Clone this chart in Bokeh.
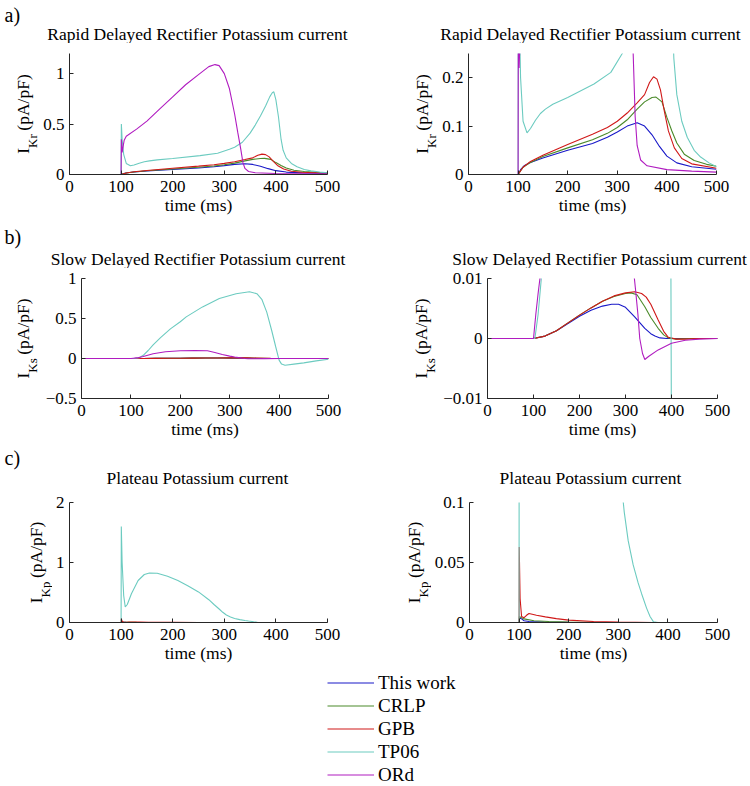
import math
from bokeh.plotting import figure
from bokeh.layouts import column, row
from bokeh.models import (Range1d, FixedTicker, CustomJSTickFormatter, Label,
                          Legend, LegendItem)
from bokeh.embed import file_html
from bokeh.resources import INLINE

FONT = "Liberation Serif"

models = ["This work", "CRLP", "GPB", "TP06", "ORd"]
colors = ["#1818c8", "#4a8a2a", "#d01818", "#6ccbc0", "#b01cc0"]
time_ticks = [0, 100, 200, 300, 400, 500]

# ---------------- IKr (rapid delayed rectifier) ----------------
ikr_t_this = [0, 100, 105, 112, 125, 150, 200, 250, 280, 300, 320, 340, 355, 370, 385, 400, 420, 450, 500]
ikr_v_this = [0, 0, 0.01, 0.018, 0.025, 0.034, 0.05, 0.064, 0.077, 0.088, 0.1, 0.107, 0.1, 0.082, 0.058, 0.038, 0.024, 0.016, 0.011]
ikr_t_crlp = [0, 100, 110, 125, 150, 200, 250, 280, 300, 320, 340, 355, 370, 378, 390, 400, 410, 420, 435, 455, 480, 500]
ikr_v_crlp = [0, 0, 0.015, 0.025, 0.037, 0.055, 0.072, 0.085, 0.097, 0.113, 0.135, 0.15, 0.159, 0.16, 0.15, 0.118, 0.09, 0.065, 0.042, 0.029, 0.021, 0.017]
ikr_t_gpb = [0, 100, 110, 125, 150, 200, 250, 280, 300, 320, 340, 355, 365, 373, 380, 387, 395, 403, 415, 430, 450, 500]
ikr_v_gpb = [0, 0, 0.015, 0.027, 0.04, 0.062, 0.083, 0.097, 0.11, 0.127, 0.148, 0.165, 0.19, 0.202, 0.197, 0.175, 0.13, 0.09, 0.055, 0.033, 0.022, 0.013]
ikr_t_tp06 = [0, 100, 100.5, 102, 105, 110, 118, 125, 135, 145, 155, 170, 200, 253, 287, 310, 320, 335, 350, 360, 370, 380, 388, 393, 396, 400, 405, 410, 414, 420, 430, 441, 455, 468, 485, 500]
ikr_v_tp06 = [0, 0, 0.5, 0.35, 0.2, 0.11, 0.086, 0.095, 0.112, 0.126, 0.135, 0.145, 0.159, 0.187, 0.211, 0.25, 0.27, 0.32, 0.41, 0.49, 0.58, 0.68, 0.77, 0.81, 0.82, 0.74, 0.57, 0.35, 0.24, 0.165, 0.11, 0.077, 0.05, 0.036, 0.024, 0.016]
ikr_t_ord = [0, 100, 100.5, 102, 106, 110, 130, 150, 175, 200, 225, 250, 270, 282, 290, 300, 310, 320, 326, 332, 336, 340, 347, 360, 400, 450, 500]
ikr_v_ord = [0, 0, 0.35, 0.22, 0.34, 0.38, 0.45, 0.53, 0.65, 0.77, 0.89, 0.99, 1.07, 1.09, 1.08, 1.0, 0.85, 0.6, 0.42, 0.25, 0.12, 0.06, 0.03, 0.018, 0.01, 0.007, 0.005]

# ---------------- IKs (slow delayed rectifier) ----------------
iks_t_this = [0, 100, 125, 150, 175, 200, 225, 250, 270, 285, 300, 320, 342, 355, 364, 375, 390, 500]
iks_v_this = [0, 0, 0.0004, 0.0013, 0.0025, 0.0037, 0.0047, 0.0054, 0.0057, 0.0057, 0.0052, 0.0036, 0.0017, 0.0008, 0.0004, 0.0001, 0, 0]
iks_t_crlp = [0, 100, 125, 150, 175, 200, 225, 250, 275, 300, 312, 325, 342, 355, 371, 383, 393, 410, 440, 500]
iks_v_crlp = [0, 0, 0.0004, 0.0013, 0.0026, 0.0039, 0.0051, 0.0062, 0.007, 0.0075, 0.0076, 0.0073, 0.0053, 0.0035, 0.0017, 0.0006, 0.0001, -0.0001, 0, 0]
iks_t_gpb = [0, 100, 125, 150, 175, 200, 225, 250, 275, 300, 320, 335, 345, 355, 371, 383, 393, 410, 430, 460, 500]
iks_v_gpb = [0, 0, 0.0004, 0.0013, 0.0026, 0.0039, 0.0051, 0.0062, 0.0071, 0.0076, 0.0078, 0.0075, 0.0069, 0.0057, 0.0031, 0.0012, 0.0002, -0.0001, -0.0001, 0, 0]
iks_t_tp06 = [0, 100, 103, 110, 117, 125, 135, 145, 160, 180, 200, 212, 245, 279, 313, 340, 355, 365, 375, 385, 393, 400, 405, 412, 430, 450, 475, 500]
iks_v_tp06 = [0, 0, 0, 0.004, 0.01, 0.04, 0.1, 0.17, 0.26, 0.37, 0.46, 0.52, 0.645, 0.75, 0.81, 0.835, 0.81, 0.74, 0.58, 0.35, 0.15, -0.02, -0.07, -0.085, -0.07, -0.055, -0.03, -0.01]
iks_t_ord = [0, 100, 105, 110, 114, 125, 145, 170, 200, 230, 255, 270, 285, 300, 310, 318, 322, 327, 331, 337, 342, 350, 371, 400, 430, 460, 500]
iks_v_ord = [0, 0, 0.004, 0.0075, 0.01, 0.025, 0.06, 0.085, 0.097, 0.1, 0.097, 0.075, 0.05, 0.03, 0.018, 0.011, 0.008, 0.004, 0, -0.0025, -0.0035, -0.003, -0.0019, -0.0008, -0.0003, -0.0001, 0]

# ---------------- IKp (plateau potassium) ----------------
ikp_t_this = [0, 100, 101, 105, 110, 120, 150, 200, 250, 500]
ikp_v_this = [0, 0, 0.004, 0.003, 0.0015, 0.0008, 0.0003, 0.0001, 0, 0]
ikp_t_crlp = [0, 100, 100.5, 105, 110, 130, 160, 200, 250, 300, 500]
ikp_v_crlp = [0, 0, 0.005, 0.004, 0.003, 0.0015, 0.0008, 0.0004, 0.0001, 0, 0]
ikp_t_gpb = [0, 100, 100.3, 102, 105, 110, 115, 120, 135, 153, 175, 200, 250, 300, 370, 500]
ikp_v_gpb = [0, 0, 0.063, 0.02, 0.005, 0.004, 0.006, 0.0075, 0.006, 0.0047, 0.0032, 0.002, 0.0008, 0.0003, 0, 0]
ikp_t_tp06 = [0, 100, 100.4, 102, 105, 108, 112, 120, 133, 145, 155, 170, 190, 210, 230, 250, 270, 280, 290, 297, 304, 312, 320, 330, 340, 347, 357, 364, 371, 380, 500]
ikp_v_tp06 = [0, 0, 1.6, 1.0, 0.45, 0.26, 0.3, 0.48, 0.7, 0.8, 0.825, 0.82, 0.77, 0.7, 0.61, 0.51, 0.38, 0.3, 0.225, 0.17, 0.125, 0.092, 0.068, 0.048, 0.033, 0.024, 0.012, 0.005, 0.0005, 0, 0]

ikr_series = [(ikr_t_this, ikr_v_this), (ikr_t_crlp, ikr_v_crlp), (ikr_t_gpb, ikr_v_gpb),
              (ikr_t_tp06, ikr_v_tp06), (ikr_t_ord, ikr_v_ord)]
iks_series = [(iks_t_this, iks_v_this), (iks_t_crlp, iks_v_crlp), (iks_t_gpb, iks_v_gpb),
              (iks_t_tp06, iks_v_tp06), (iks_t_ord, iks_v_ord)]
ikp_series = [(ikp_t_this, ikp_v_this), (ikp_t_crlp, ikp_v_crlp), (ikp_t_gpb, ikp_v_gpb),
              (ikp_t_tp06, ikp_v_tp06), None]

titles = ["Rapid Delayed Rectifier Potassium current",
          "Slow Delayed Rectifier Potassium current",
          "Plateau Potassium current"]
tags = ["a)", "b)", "c)"]

fmt = CustomJSTickFormatter(code="return tick < 0 ? '\u2212' + String(-tick) : String(tick);")

FS = "17.5px"


def blank(w, h, **kw):
    f = figure(output_backend="svg", toolbar_location=None,
               frame_width=w, frame_height=h, min_border=0,
               x_range=Range1d(0, w), y_range=Range1d(0, h),
               x_axis_type=None, y_axis_type=None, **kw)
    f.outline_line_color = None
    f.grid.visible = False
    return f


def header(h, tag, tag_y, title, title_y, xl, xr):
    f = blank(750, h)
    f.add_layout(Label(x=4, y=h - tag_y, text=tag, text_align="left", text_baseline="middle",
                       text_font=FONT, text_font_size="20px", text_color="black"))
    for xc in (xl, xr):
        f.add_layout(Label(x=xc, y=h - title_y, text=title, text_align="center",
                           text_baseline="middle", text_font=FONT, text_font_size=FS,
                           text_color="black"))
    return f


def label_fig(w, bt, fh, bb, sub, bx):
    f = figure(output_backend="svg", toolbar_location=None,
               frame_width=w, frame_height=fh,
               min_border_left=0, min_border_right=0,
               min_border_top=bt, min_border_bottom=bb,
               x_range=Range1d(0, w), y_range=Range1d(0, fh),
               x_axis_type=None, y_axis_type=None)
    f.outline_line_color = None
    f.grid.visible = False
    i_w = 0.333 * 17.5
    sub_w = {"Kr": 1.055, "Ks": 1.111, "Kp": 1.222}[sub] * 13
    gap = 3.5
    par_w = 3.222 * 17.5
    total = i_w + sub_w + gap + par_w
    y0 = fh / 2 - total / 2
    common = dict(angle=math.pi / 2, text_align="left", text_baseline="alphabetic",
                  text_font=FONT, text_color="black")
    f.add_layout(Label(x=bx, y=y0, text="I", text_font_size=FS, **common))
    f.add_layout(Label(x=bx + 10, y=y0 + i_w, text=sub, text_font_size="13px", **common))
    f.add_layout(Label(x=bx, y=y0 + i_w + sub_w + gap, text="(pA/pF)",
                       text_font_size=FS, **common))
    return f


def panel(series, yrange, yticks, fw, bl, br, bt, fh, bb):
    p = figure(output_backend="svg", toolbar_location=None,
               frame_width=fw, frame_height=fh,
               min_border_left=bl, min_border_right=br,
               min_border_top=bt, min_border_bottom=bb,
               x_range=Range1d(0, 500), y_range=Range1d(*yrange))
    p.outline_line_color = None
    p.xgrid.visible = False
    p.ygrid.visible = False
    p.xaxis.ticker = FixedTicker(ticks=time_ticks)
    p.yaxis.ticker = FixedTicker(ticks=yticks)
    p.yaxis.formatter = fmt
    for ax in (p.xaxis[0], p.yaxis[0]):
        ax.major_label_text_font = FONT
        ax.major_label_text_font_size = "17px"
        ax.major_label_text_color = "black"
        ax.major_tick_in = 4
        ax.major_tick_out = 0
        ax.minor_tick_in = 0
        ax.minor_tick_out = 0
        ax.axis_line_color = "#262626"
        ax.major_tick_line_color = "#262626"
    p.xaxis.major_label_standoff = 6
    p.yaxis.major_label_standoff = 5
    p.xaxis.axis_label = "time (ms)"
    p.xaxis.axis_label_text_font = FONT
    p.xaxis.axis_label_text_font_size = FS
    p.xaxis.axis_label_text_font_style = "normal"
    p.xaxis.axis_label_text_color = "black"
    p.xaxis.axis_label_standoff = 0
    for s, c in zip(series, colors):
        if s is None:
            continue
        p.line(x=s[0], y=s[1], line_color=c, line_width=1.1)
    return p


# Header a (0..43), row a (43..223): frames y 53..174
ha = header(43, tags[0], 14, titles[0], 33, 197, 590)
a1 = panel(ikr_series, (0, 1.2), [0, 0.5, 1], 258, 28, 30, 10, 121, 49)
a2 = panel(ikr_series, (0, 0.25), [0, 0.1, 0.2], 248, 28, 36, 10, 121, 49)
la1 = label_fig(40, 10, 121, 49, "Kr", 22)
la2 = label_fig(82, 10, 121, 49, "Kr", 64)

# Header b (223..268), row b (268..447): frames y 278..398
hb = header(45, tags[1], 13, titles[1], 35, 197.5, 599)
b1 = panel(iks_series, (-0.5, 1), [-0.5, 0, 0.5, 1], 247, 37, 30, 10, 120, 49)
b2 = panel(iks_series, (-0.01, 0.01), [-0.01, 0, 0.01], 230, 46, 36, 10, 120, 49)
lb1 = label_fig(42, 10, 120, 49, "Ks", 22)
lb2 = label_fig(82, 10, 120, 49, "Ks", 62)

# Header c (447..488), row c (488..671): frames y 502..622
hc = header(41, tags[2], 10, titles[2], 30, 197, 590)
c1 = panel(ikp_series, (0, 2), [0, 1, 2], 258, 16, 30, 14, 120, 49)
c2 = panel(ikp_series, (0, 0.1), [0, 0.05, 0.1], 248, 36, 36, 14, 120, 49)
lc1 = label_fig(52, 14, 120, 49, "Kp", 35)
lc2 = label_fig(74, 14, 120, 49, "Kp", 56)

# Legend (671..786)
HL = 115
leg = figure(output_backend="svg", toolbar_location=None, frame_width=750, frame_height=HL,
             min_border=0, x_range=Range1d(0, 1), y_range=Range1d(100, 101),
             x_axis_type=None, y_axis_type=None)
leg.outline_line_color = None
leg.grid.visible = False
items = []
for name, c, s in zip(models, colors, ikr_series):
    r = leg.line(x=s[0], y=s[1], line_color=c, line_width=1.1)
    items.append(LegendItem(label=name, renderers=[r]))
legend = Legend(items=items, location=(327, HL - 5 * 23), orientation="vertical",
                glyph_width=47, glyph_height=23, label_height=23, spacing=0,
                padding=0, margin=0, label_standoff=4,
                border_line_color=None, background_fill_alpha=0,
                label_text_font=FONT, label_text_font_size="19px",
                label_text_color="black", label_text_baseline="middle")
leg.add_layout(legend, "center")

layout = column(ha, row(la1, a1, la2, a2), hb, row(lb1, b1, lb2, b2),
                hc, row(lc1, c1, lc2, c2), leg)

with open("out.html", "w", encoding="utf-8") as f:
    f.write(file_html(layout, INLINE))
